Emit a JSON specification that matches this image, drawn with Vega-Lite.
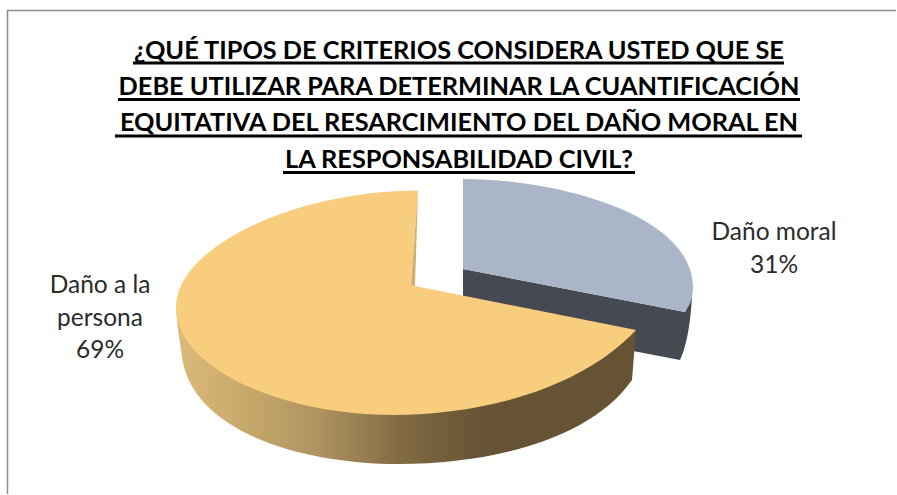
{"$schema":"https://vega.github.io/schema/vega-lite/v6.json","width":896,"height":494,"padding":0,"autosize":{"type":"none"},"background":"white","view":{"stroke":null},"title":{"text":["¿QUÉ TIPOS DE CRITERIOS CONSIDERA USTED QUE SE","DEBE UTILIZAR PARA DETERMINAR LA CUANTIFICACIÓN","EQUITATIVA DEL RESARCIMIENTO DEL DAÑO MORAL EN","LA RESPONSABILIDAD CIVIL?"],"font":"Lato","fontSize":25.3,"fontWeight":"bold","color":"#000000","lineHeight":36.4,"anchor":"middle","baseline":"alphabetic","offset":0,"dy":193,"dx":11},"datasets":{"respuestas":[{"categoria":"Daño moral","porcentaje":31,"etiqueta":"Daño moral\n31%"},{"categoria":"Daño a la persona","porcentaje":69,"etiqueta":"Daño a la\npersona\n69%"}]},"data":{"name":"respuestas"},"layer":[{"transform":[{"filter":"datum.categoria==='Daño moral'"}],"mark":{"type":"point","filled":false,"opacity":1,"size":4,"stroke":"#8E8E8E","strokeWidth":1.5,"shape":"M-440.5,248V-236.5H449"}},{"transform":[{"filter":"datum.categoria==='Daño moral'"}],"mark":{"type":"point","filled":false,"opacity":1,"size":4,"stroke":"#000000","strokeWidth":3,"shape":"M-315,-184H336M-330,-147.5H352M-333,-111H354M-165,-74.5H187"}},{"transform":[{"filter":"datum.categoria==='Daño moral'"}],"mark":{"type":"point","filled":true,"opacity":1,"size":4,"strokeWidth":0,"fill":"#454A52","shape":"M15,22L237,65L244,48C243,73 239,98 232,113L185,104L15,72Z"}},{"transform":[{"filter":"datum.categoria==='Daño moral'"}],"mark":{"type":"point","filled":true,"opacity":1,"size":4,"strokeWidth":0,"fill":"#AAB6C7","shape":"M15,-68C112,-68 245,-32 245,41C245,50 242,58 237,65L15,22Z"}},{"transform":[{"filter":"datum.categoria==='Daño a la persona'"}],"mark":{"type":"point","filled":true,"opacity":1,"size":4,"strokeWidth":0,"fill":{"gradient":"linear","x1":0,"y1":0,"x2":1,"y2":0,"stops":[{"offset":0,"color":"#DCBA7A"},{"offset":0.18,"color":"#C3A569"},{"offset":0.31,"color":"#AF935F"},{"offset":0.49,"color":"#826B44"},{"offset":0.66,"color":"#675434"},{"offset":1,"color":"#665334"}]},"shape":"M-272,60C-271,78 -268,98 -265,116C-250,185 -148,217 -48,217C42,217 142,193 184,133L188,83L-33,83Z"}},{"transform":[{"filter":"datum.categoria==='Daño a la persona'"}],"mark":{"type":"point","filled":true,"opacity":1,"size":4,"strokeWidth":0,"fill":"#F9CD7E","shape":"M-30,-56.5C-156,-56 -272,1 -272,60C-272,123 -163,168 -55,168C42,168 137,138 188,83L-33,39L-37,38Z"}},{"transform":[{"filter":"datum.categoria==='Daño a la persona'"}],"mark":{"type":"point","filled":true,"opacity":1,"size":4,"strokeWidth":0,"fill":"#CFAE6F","shape":"M-30,-56.5L-33,39L-37,38Z"}},{"mark":{"type":"text","font":"Lato","fontSize":24.5,"color":"#2B2B2B","lineBreak":"\n","lineHeight":32.7,"align":"center","baseline":"alphabetic"},"encoding":{"text":{"field":"etiqueta","type":"nominal"},"x":{"field":"categoria","type":"nominal","axis":null,"scale":{"domain":["Daño moral","Daño a la persona"],"range":[774,100],"padding":0}},"y":{"field":"categoria","type":"nominal","axis":null,"scale":{"domain":["Daño moral","Daño a la persona"],"range":[240,293],"padding":0}}}}]}
